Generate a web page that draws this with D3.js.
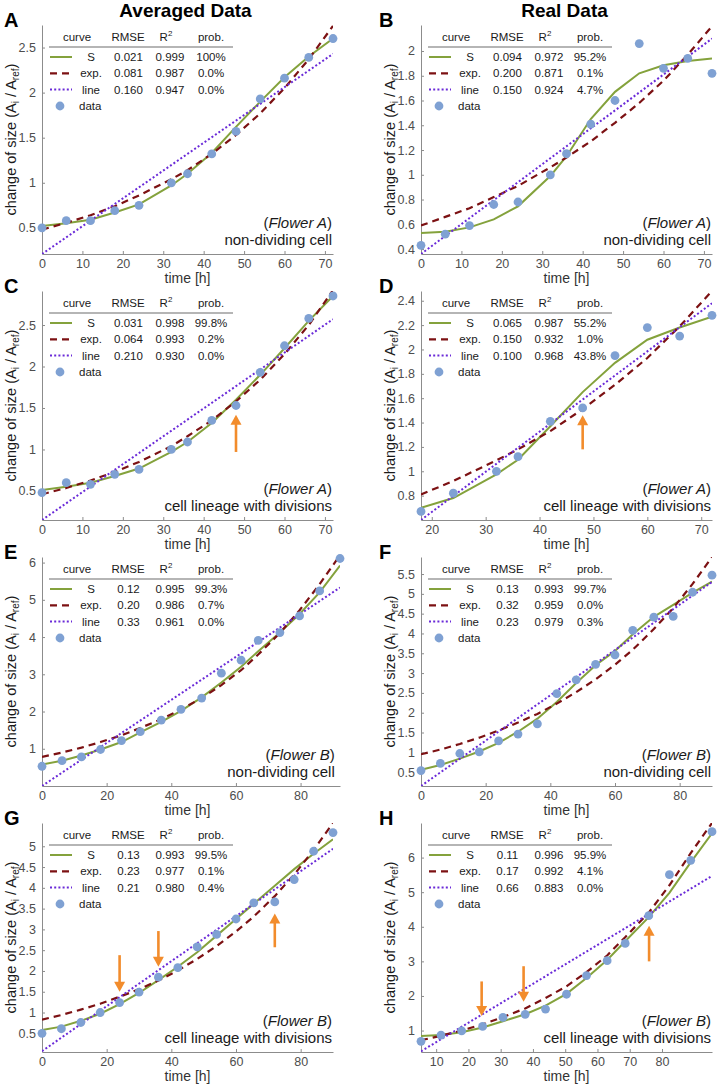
<!DOCTYPE html>
<html><head><meta charset="utf-8">
<script src="https://cdn.jsdelivr.net/npm/d3@7"></script>
<style>
body{margin:0;background:#fff}
svg{display:block}
text{font-family:"Liberation Sans", Arial, Helvetica, sans-serif}
</style>
</head><body>
<svg id="c" width="719" height="1085"></svg>
<script>
// ---------------- DATA ----------------
const timeA = [0,6,12,18,24,32,36,42,48,54,60,66,72];
const dataA = [0.50,0.58,0.58,0.69,0.75,1.00,1.10,1.32,1.57,1.93,2.16,2.39,2.60];
const sA    = [0.52,0.55,0.59,0.67,0.76,0.97,1.10,1.33,1.62,1.90,2.17,2.40,2.60];
const expA  = [0.48,0.555,0.64,0.74,0.86,1.04,1.14,1.32,1.53,1.77,2.05,2.37,2.74];
const lineA = [0.21,2.43];

const timeB = [0,6,12,18,24,32,36,42,48,54,60,66,72];
const dataB = [0.43,0.52,0.59,0.76,0.78,1.00,1.17,1.41,1.60,2.06,1.86,1.94,1.82];
const sB    = [0.53,0.54,0.575,0.64,0.745,0.99,1.15,1.45,1.67,1.82,1.885,1.92,1.94];
const expB  = [0.59,0.66,0.73,0.82,0.91,1.06,1.14,1.27,1.42,1.58,1.76,1.97,2.20];
const lineB = [0.36,2.10];

const timeC = [0,6,12,18,24,32,36,42,48,54,60,66,72];
const dataC = [0.48,0.60,0.58,0.70,0.76,1.00,1.09,1.35,1.53,1.93,2.25,2.58,2.85];
const sC    = [0.51,0.55,0.60,0.68,0.77,0.97,1.09,1.32,1.60,1.90,2.22,2.55,2.85];
const expC  = [0.46,0.535,0.626,0.73,0.85,1.04,1.16,1.35,1.58,1.84,2.15,2.50,2.92];
const lineC = [0.15,2.57];

const timeD = [18,24,32,36,42,48,54,60,66,72];
const dataD = [0.67,0.82,1.00,1.12,1.41,1.52,1.95,2.18,2.11,2.28];
const sD    = [0.70,0.78,0.975,1.095,1.37,1.65,1.89,2.08,2.18,2.27];
const expD  = [0.81,0.92,1.09,1.18,1.33,1.51,1.71,1.93,2.19,2.48];
const lineD = [0.60,2.38];

const timeE = [0,6.2,12.2,18.1,24.6,30.4,36.9,43.0,49.4,55.5,61.6,66.9,73.6,79.7,85.9,92.2];
const dataE = [0.53,0.68,0.78,0.98,1.22,1.46,1.77,2.06,2.36,3.03,3.38,3.91,4.12,4.57,5.24,6.11];
const sE    = [0.58,0.68,0.82,0.98,1.18,1.44,1.72,2.02,2.38,2.78,3.20,3.62,4.12,4.62,5.20,5.92];
const expE  = [0.78,0.90,1.03,1.18,1.36,1.56,1.79,2.06,2.36,2.71,3.11,3.53,4.11,4.72,5.42,6.20];
const lineE = [0.00,5.33];

const timeF = [0,6,12,18,24,30,36,42,48,54,60,65.5,72,78,84,90];
const dataF = [0.54,0.72,0.97,1.01,1.29,1.46,1.72,2.48,2.83,3.22,3.46,4.08,4.41,4.43,5.04,5.47];
const sF    = [0.56,0.68,0.84,1.02,1.24,1.52,1.85,2.27,2.75,3.20,3.56,3.98,4.42,4.72,5.03,5.31];
const expF  = [0.95,1.07,1.21,1.37,1.55,1.75,1.97,2.23,2.52,2.84,3.21,3.59,4.11,4.64,5.25,5.93];
const lineF = [0.15,5.30];

const timeG = [0,6,12,18,24,30,36,42,48,54,60,65.5,72,78,84,90];
const dataG = [0.50,0.61,0.76,1.00,1.24,1.49,1.85,2.08,2.58,2.88,3.25,3.64,3.66,4.20,4.88,5.33];
const sG    = [0.58,0.66,0.80,0.97,1.20,1.47,1.78,2.10,2.45,2.85,3.25,3.62,4.05,4.45,4.82,5.17];
const expG  = [0.83,0.94,1.07,1.21,1.38,1.56,1.77,2.01,2.29,2.60,2.95,3.31,3.80,4.32,4.91,5.56];
const lineG = [0.07,4.94];

const timeH = [5.3,11.5,17.9,24.4,30.7,37.6,43.9,50.4,56.6,63.0,68.6,75.9,82.3,88.9,95.5];
const dataH = [0.69,0.87,0.99,1.12,1.38,1.47,1.62,2.05,2.59,3.02,3.52,4.32,5.51,5.92,6.75];
const sH    = [0.84,0.87,0.95,1.09,1.27,1.47,1.72,2.06,2.52,3.04,3.58,4.28,4.98,5.86,6.70];
const expH  = [0.72,0.85,1.00,1.18,1.39,1.64,1.94,2.28,2.69,3.17,3.70,4.41,5.20,6.13,7.00];
const lineH = [0.40,5.47];

// axis limits and ticks
const xDomA = [0,72], xDomD = [18,72], xDomE = [0,92.2], xDom90 = [0,90], xDomH = [5.3,95.5];
const xTicks72 = [0,10,20,30,40,50,60,70];
const xTicksD  = [20,30,40,50,60,70];
const xTicks90 = [0,20,40,60,80];
const xTicksH  = [10,20,30,40,50,60,70,80];
const yDomA = [0.21,2.75], yDomB = [0.36,2.21], yDomC = [0.15,2.91], yDomD = [0.60,2.48];
const yDomE = [0.00,6.15], yDomF = [0.15,5.93], yDomG = [0.05,5.56], yDomH = [0.38,7.00];
const yTicksA = [0.5,1,1.5,2,2.5];
const yTicksB = [0.4,0.6,0.8,1,1.2,1.4,1.6,1.8,2];
const yTicksD = [0.8,1,1.2,1.4,1.6,1.8,2,2.2,2.4];
const yTicksE = [1,2,3,4,5,6];
const yTicksF = [0.5,1,1.5,2,2.5,3,3.5,4,4.5,5,5.5];
const yTicksG = [0.5,1,1.5,2,2.5,3,3.5,4,4.5,5];
const yTicksH = [1,2,3,4,5,6];

// legend tables: rows S, exp., line -> [RMSE, R2, prob]
const curveNames = ["S","exp.","line"];
const statsA = [["0.021","0.999","100%"],["0.081","0.987","0.0%"],["0.160","0.947","0.0%"]];
const statsB = [["0.094","0.972","95.2%"],["0.200","0.871","0.1%"],["0.150","0.924","4.7%"]];
const statsC = [["0.031","0.998","99.8%"],["0.064","0.993","0.2%"],["0.210","0.930","0.0%"]];
const statsD = [["0.065","0.987","55.2%"],["0.150","0.932","1.0%"],["0.100","0.968","43.8%"]];
const statsE = [["0.12","0.995","99.3%"],["0.20","0.986","0.7%"],["0.33","0.961","0.0%"]];
const statsF = [["0.13","0.993","99.7%"],["0.32","0.959","0.0%"],["0.23","0.979","0.3%"]];
const statsG = [["0.13","0.993","99.5%"],["0.23","0.977","0.1%"],["0.21","0.980","0.4%"]];
const statsH = [["0.11","0.996","95.9%"],["0.17","0.992","4.1%"],["0.66","0.883","0.0%"]];

// division arrows: [time, tail value, tip value]
const arrowsC = [[48,0.97,1.42]];
const arrowsD = [[48,1.18,1.46]];
const arrowsG = [[24,2.38,1.50],[36,2.96,2.10],[72,2.57,3.38]];
const arrowsH = [[24.1,2.42,1.42],[37.1,2.86,1.83],[76.0,3.00,4.03]];

const panelLetters = ["A","B","C","D","E","F","G","H"];
const flowers = ["A","A","A","A","B","B","B","B"];
const cellTypes = ["non-dividing cell","non-dividing cell","cell lineage with divisions","cell lineage with divisions",
                   "non-dividing cell","non-dividing cell","cell lineage with divisions","cell lineage with divisions"];
const columnTitles = ["Averaged Data","Real Data"];

// ---------------- BUILD ----------------
const P = [
  {t:timeA,d:dataA,s:sA,e:expA,l:lineA,xd:xDomA,yd:yDomA,xt:xTicks72,yt:yTicksA,st:statsA,ar:[]},
  {t:timeB,d:dataB,s:sB,e:expB,l:lineB,xd:xDomA,yd:yDomB,xt:xTicks72,yt:yTicksB,st:statsB,ar:[]},
  {t:timeC,d:dataC,s:sC,e:expC,l:lineC,xd:xDomA,yd:yDomC,xt:xTicks72,yt:yTicksA,st:statsC,ar:arrowsC},
  {t:timeD,d:dataD,s:sD,e:expD,l:lineD,xd:xDomD,yd:yDomD,xt:xTicksD,yt:yTicksD,st:statsD,ar:arrowsD},
  {t:timeE,d:dataE,s:sE,e:expE,l:lineE,xd:xDomE,yd:yDomE,xt:xTicks90,yt:yTicksE,st:statsE,ar:[]},
  {t:timeF,d:dataF,s:sF,e:expF,l:lineF,xd:xDom90,yd:yDomF,xt:xTicks90,yt:yTicksF,st:statsF,ar:[]},
  {t:timeG,d:dataG,s:sG,e:expG,l:lineG,xd:xDom90,yd:yDomG,xt:xTicks90,yt:yTicksG,st:statsG,ar:arrowsG},
  {t:timeH,d:dataH,s:sH,e:expH,l:lineH,xd:xDomH,yd:yDomH,xt:xTicksH,yt:yTicksH,st:statsH,ar:arrowsH}
];

const COL = {S:"#84a23c", exp:"#7c1113", line:"#6a2ad8", dot:"#7fa1d3", arrow:"#f28c2c",
             axis:"#8c8c8c", tick:"#4d4d4d", text:"#1a1a1a", rule:"#b5b5b5"};
const colX = [42, 421], W0 = 291;
const widths = [291,291,291,291,298,291,291,291];
const rowY = [25, 291, 557, 823], H = 229;
const fmt = d3.format("~g");

const svg = d3.select("#c");

columnTitles.forEach((t,c)=>{
  svg.append("text").attr("x", colX[c] + W0/2 - 2).attr("y", 17)
    .attr("text-anchor","middle").style("font-size","19px").style("font-weight","bold")
    .attr("fill","#000").text(t);
});

P.forEach((p,i)=>{
  const col = i % 2, row = Math.floor(i/2);
  const x0 = colX[col], y0 = rowY[row], W = widths[i];

  svg.append("text").attr("x", col===0 ? 4 : 379).attr("y", y0 + 2)
    .style("font-size","20px").style("font-weight","bold").attr("fill","#000")
    .text(panelLetters[i]);

  const g = svg.append("g").attr("transform",`translate(${x0},${y0})`);
  const x = d3.scaleLinear().domain(p.xd).range([0,W]);
  const y = d3.scaleLinear().domain(p.yd).range([H,0]);

  const xa = g.append("g").attr("transform",`translate(0,${H})`)
    .call(d3.axisBottom(x).tickValues(p.xt).tickFormat(fmt).tickSizeInner(-3).tickSizeOuter(0).tickPadding(5.5));
  const ya = g.append("g")
    .call(d3.axisLeft(y).tickValues(p.yt).tickFormat(fmt).tickSizeInner(-3).tickSizeOuter(0).tickPadding(6));
  [xa,ya].forEach(a=>{
    a.select(".domain").attr("stroke",COL.axis).attr("stroke-width",1);
    a.selectAll(".tick line").attr("stroke",COL.axis);
    a.selectAll(".tick text").attr("fill",COL.tick).style("font-size","12.5px")
      .style("font-family",'"Liberation Sans", Arial, sans-serif');
  });

  g.append("text").attr("x", W0/2).attr("y", H + 29).attr("text-anchor","middle")
    .style("font-size","14px").attr("fill","#333").text("time [h]");
  const yl = g.append("text").attr("transform",`translate(-26,${H/2}) rotate(-90)`)
    .attr("text-anchor","middle").style("font-size","14.5px").attr("fill","#1a1a1a");
  yl.append("tspan").text("change of size (A");
  yl.append("tspan").attr("dy",3).style("font-size","10px").text("i");
  yl.append("tspan").attr("dy",-3).text(" / A");
  yl.append("tspan").attr("dy",3).style("font-size","10px").text("ref");
  yl.append("tspan").attr("dy",-3).text(")");

  svg.append("clipPath").attr("id","clip"+i).append("rect").attr("width",W).attr("height",H);
  const pl = g.append("g").attr("clip-path",`url(#clip${i})`);

  const ln = d3.line().x((d,j)=>x(p.t[j])).y(d=>y(d));
  pl.append("path").attr("d", ln(p.s)).attr("fill","none").attr("stroke",COL.S).attr("stroke-width",2);
  pl.append("path").attr("d", ln(p.e)).attr("fill","none").attr("stroke",COL.exp)
    .attr("stroke-width",2.2).attr("stroke-dasharray","7,5");
  const lt = [p.t[0], p.t[p.t.length-1]];
  pl.append("path").attr("d", d3.line().x((d,j)=>x(lt[j])).y(d=>y(d))(p.l))
    .attr("fill","none").attr("stroke",COL.line).attr("stroke-width",2).attr("stroke-dasharray","2,2.2");

  g.append("g").selectAll("circle").data(p.d).join("circle")
    .attr("cx",(d,j)=>x(p.t[j])).attr("cy",d=>y(d)).attr("r",4.4).attr("fill",COL.dot);

  p.ar.forEach(([t,from,to])=>{
    const ax = x(t), ay1 = y(from), ay2 = y(to);
    const dir = ay2 < ay1 ? -1 : 1;
    const hl = 10, hw = 5.5;
    g.append("line").attr("x1",ax).attr("x2",ax).attr("y1",ay1).attr("y2",ay2 - dir*hl + dir*1)
      .attr("stroke",COL.arrow).attr("stroke-width",2.6);
    g.append("path").attr("d",`M${ax},${ay2} L${ax-hw},${ay2-dir*hl} L${ax+hw},${ay2-dir*hl} Z`)
      .attr("fill",COL.arrow);
  });

  const ax2 = W0 - 1 + (W - W0) * 0.4;
  const an = g.append("text").attr("x",ax2).attr("y",H-26).attr("text-anchor","end")
    .style("font-size","15px").attr("fill",COL.text);
  an.append("tspan").text("(");
  an.append("tspan").style("font-style","italic").text("Flower " + flowers[i]);
  an.append("tspan").text(")");
  g.append("text").attr("x",ax2).attr("y",H-9).attr("text-anchor","end")
    .style("font-size","15px").attr("fill",COL.text).text(cellTypes[i]);

  const lg = g.append("g").style("font-size","11.5px").attr("fill","#1a1a1a");
  lg.append("text").attr("x",35).attr("y",16).attr("text-anchor","middle").text("curve");
  lg.append("text").attr("x",86).attr("y",16).attr("text-anchor","middle").text("RMSE");
  const r2 = lg.append("text").attr("x",124).attr("y",16).attr("text-anchor","middle");
  r2.append("tspan").text("R");
  r2.append("tspan").attr("dy",-5).style("font-size","8px").text("2");
  lg.append("text").attr("x",169).attr("y",16).attr("text-anchor","middle").text("prob.");
  lg.append("line").attr("x1",7).attr("x2",191).attr("y1",22).attr("y2",22)
    .attr("stroke",COL.rule).attr("stroke-width",2);

  const rowBase = [36, 52.3, 68.6];
  const sty = [
    {c:COL.S, w:2, da:null},
    {c:COL.exp, w:2.2, da:"7,5"},
    {c:COL.line, w:2, da:"2,2.2"}
  ];
  curveNames.forEach((nm,k)=>{
    const yy = rowBase[k];
    const sl = lg.append("line").attr("x1",8).attr("x2",30).attr("y1",yy-4).attr("y2",yy-4)
      .attr("stroke",sty[k].c).attr("stroke-width",sty[k].w);
    if (sty[k].da) sl.attr("stroke-dasharray",sty[k].da);
    lg.append("text").attr("x",49).attr("y",yy).attr("text-anchor","middle").text(nm);
    lg.append("text").attr("x",86.5).attr("y",yy).attr("text-anchor","middle").text(p.st[k][0]);
    lg.append("text").attr("x",128).attr("y",yy).attr("text-anchor","middle").text(p.st[k][1]);
    lg.append("text").attr("x",169).attr("y",yy).attr("text-anchor","middle").text(p.st[k][2]);
  });
  lg.append("circle").attr("cx",18).attr("cy",81).attr("r",4.4).attr("fill",COL.dot);
  lg.append("text").attr("x",37).attr("y",85).text("data");
});
</script>
</body></html>
